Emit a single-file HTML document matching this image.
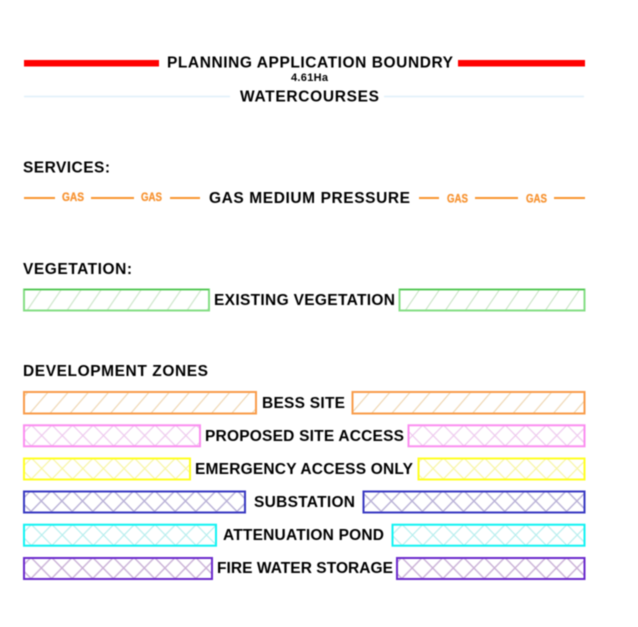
<!DOCTYPE html>
<html>
<head>
<meta charset="utf-8">
<style>
html,body{margin:0;padding:0;background:#fff;width:638px;height:627px;overflow:hidden}
svg{display:block;filter:blur(0.4px)}
text{font-family:"Liberation Sans",sans-serif;font-weight:bold;fill:#000;font-size:15.5px}
.g{fill:#f79332;stroke:#f79332;stroke-width:.3;font-size:11.5px}
</style>
</head>
<body>
<svg width="638" height="627" viewBox="0 0 638 627" xmlns="http://www.w3.org/2000/svg">
<defs>
<pattern id="hG1" patternUnits="userSpaceOnUse" width="20" height="22" x="6.7" y="289"><path d="M0 22L15 0M-20 22L-5 0M20 22L35 0" stroke="#c9e4c6" stroke-width="1.1" fill="none"/></pattern>
<pattern id="hG2" patternUnits="userSpaceOnUse" width="20" height="22" x="405" y="289"><path d="M0 22L15 0M-20 22L-5 0M20 22L35 0" stroke="#c9e4c6" stroke-width="1.1" fill="none"/></pattern>
<pattern id="hO1" patternUnits="userSpaceOnUse" width="20.2" height="22" x="9" y="392"><path d="M0 22L19 0M-20.2 22L-1.2 0M20.2 22L39.2 0" stroke="#eed4ae" stroke-width="1.1" fill="none"/></pattern>
<pattern id="hO2" patternUnits="userSpaceOnUse" width="20.2" height="22" x="411.5" y="392"><path d="M0 22L19 0M-20.2 22L-1.2 0M20.2 22L39.2 0" stroke="#eed4ae" stroke-width="1.1" fill="none"/></pattern>
<pattern id="xP" patternUnits="userSpaceOnUse" width="20.6" height="21" x="10.8" y="425"><path d="M0 0L20.6 21M20.6 0L0 21" stroke="#eecaee" stroke-width="1.2" fill="none"/></pattern>
<pattern id="xY" patternUnits="userSpaceOnUse" width="20.6" height="21" x="10.8" y="458"><path d="M0 0L20.6 21M20.6 0L0 21" stroke="#f8f5a4" stroke-width="1.2" fill="none"/></pattern>
<pattern id="xB" patternUnits="userSpaceOnUse" width="20.6" height="21" x="10.4" y="490.5"><path d="M0 0L20.6 21M20.6 0L0 21" stroke="#b8b0d6" stroke-width="1.4" fill="none"/></pattern>
<pattern id="xC" patternUnits="userSpaceOnUse" width="20.6" height="21" x="10.8" y="524.5"><path d="M0 0L20.6 21M20.6 0L0 21" stroke="#b8eeee" stroke-width="1.2" fill="none"/></pattern>
<pattern id="xV" patternUnits="userSpaceOnUse" width="20.6" height="21" x="10.4" y="557.5"><path d="M0 0L20.6 21M20.6 0L0 21" stroke="#c9b0d6" stroke-width="1.4" fill="none"/></pattern>
</defs>
<rect width="638" height="627" fill="#fff"/>

<!-- boundary -->
<rect x="24" y="60" width="135" height="6.5" fill="#ff0000"/>
<rect x="458" y="60" width="127" height="6.5" fill="#ff0000"/>
<text x="167" y="67.5" textLength="286" lengthAdjust="spacing">PLANNING APPLICATION BOUNDRY</text>
<text x="291" y="81" textLength="37" lengthAdjust="spacing" style="font-size:11px">4.61Ha</text>

<!-- watercourses -->
<rect x="24" y="95.7" width="206" height="1.6" fill="#e0f0fa"/>
<rect x="384" y="95.7" width="200" height="1.6" fill="#e0f0fa"/>
<text x="240" y="101.5" textLength="139" lengthAdjust="spacing">WATERCOURSES</text>

<!-- services -->
<text x="23" y="172.5" textLength="87" lengthAdjust="spacing">SERVICES:</text>
<g fill="#f8952f">
<rect x="24" y="197" width="31" height="2"/>
<rect x="91" y="197" width="43" height="2"/>
<rect x="170" y="197" width="30" height="2"/>
<rect x="419" y="197" width="20" height="2"/>
<rect x="475" y="197" width="43" height="2"/>
<rect x="554" y="197" width="31" height="2"/>
</g>
<text class="g" x="62" y="201" textLength="22" lengthAdjust="spacingAndGlyphs">GAS</text>
<text class="g" x="141" y="201" textLength="21" lengthAdjust="spacingAndGlyphs">GAS</text>
<text class="g" x="447" y="202.5" textLength="21" lengthAdjust="spacingAndGlyphs">GAS</text>
<text class="g" x="526" y="202.5" textLength="21" lengthAdjust="spacingAndGlyphs">GAS</text>
<text x="209" y="203" textLength="201" lengthAdjust="spacing">GAS MEDIUM PRESSURE</text>

<!-- vegetation -->
<text x="23" y="274" textLength="109" lengthAdjust="spacing">VEGETATION:</text>
<rect x="24" y="289.5" width="185" height="21" fill="url(#hG1)" stroke="#84de84" stroke-width="2"/>
<rect x="399.5" y="289.5" width="185" height="21" fill="url(#hG2)" stroke="#84de84" stroke-width="2"/>
<path d="M24 289.5H209M399.5 289.5H584.5" stroke="#45bf46" stroke-width="1.2"/>
<text x="214" y="305" textLength="181" lengthAdjust="spacing">EXISTING VEGETATION</text>

<!-- development zones -->
<text x="23" y="376" textLength="185" lengthAdjust="spacing">DEVELOPMENT ZONES</text>

<rect x="24" y="392" width="232" height="21.5" fill="url(#hO1)" stroke="#f99c4a" stroke-width="2"/>
<rect x="352.5" y="392" width="232" height="21.5" fill="url(#hO2)" stroke="#f99c4a" stroke-width="2"/>
<text x="262" y="408" textLength="83" lengthAdjust="spacing">BESS SITE</text>

<rect x="24" y="425.3" width="176" height="21" fill="url(#xP)" stroke="#fb8ef0" stroke-width="2"/>
<rect x="408.5" y="425.3" width="176" height="21" fill="url(#xP)" stroke="#fb8ef0" stroke-width="2"/>
<text x="205" y="441" textLength="199" lengthAdjust="spacing">PROPOSED SITE ACCESS</text>

<rect x="24" y="458.5" width="166" height="21" fill="url(#xY)" stroke="#ffff22" stroke-width="2"/>
<rect x="418.5" y="458.5" width="166" height="21" fill="url(#xY)" stroke="#ffff22" stroke-width="2"/>
<text x="195" y="474" textLength="218" lengthAdjust="spacing">EMERGENCY ACCESS ONLY</text>

<rect x="24" y="491.5" width="221" height="21" fill="url(#xB)" stroke="#3838c2" stroke-width="2"/>
<rect x="363.5" y="491.5" width="221" height="21" fill="url(#xB)" stroke="#3838c2" stroke-width="2"/>
<text x="254" y="507" textLength="101" lengthAdjust="spacing">SUBSTATION</text>

<rect x="24" y="524.7" width="192" height="21" fill="url(#xC)" stroke="#11f3f3" stroke-width="2"/>
<rect x="392.5" y="524.7" width="192" height="21" fill="url(#xC)" stroke="#11f3f3" stroke-width="2"/>
<text x="223" y="540" textLength="161" lengthAdjust="spacing">ATTENUATION POND</text>

<rect x="24" y="558" width="188" height="21" fill="url(#xV)" stroke="#6a28cc" stroke-width="2"/>
<rect x="397" y="558" width="187.5" height="21" fill="url(#xV)" stroke="#6a28cc" stroke-width="2"/>
<text x="217" y="573" textLength="176" lengthAdjust="spacing">FIRE WATER STORAGE</text>
</svg>
</body>
</html>
